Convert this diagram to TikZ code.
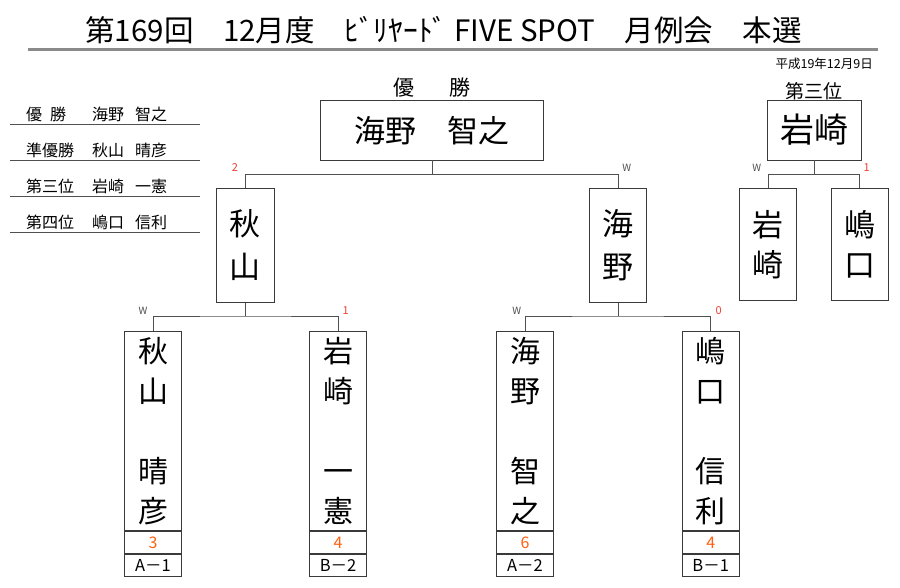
\documentclass[tikz,border=0pt]{standalone}
\usepackage{fontspec}
\setmainfont{Noto Sans CJK JP}
\usepackage{tikz}
\usetikzlibrary{positioning}
\usepackage{xcolor}

\definecolor{linegray}{HTML}{505050}
\definecolor{boxgray}{HTML}{3A3A3A}
\definecolor{rulegray}{HTML}{8A8A8A}
\definecolor{lossred}{HTML}{F04030}
\definecolor{scoreorange}{HTML}{FF6010}
\newcommand{\fsz}[2]{\fontsize{#1}{#2}\selectfont}

\tikzset{
namebox/.style={draw=boxgray, line width=0.9pt, inner sep=0pt, align=center},
cellbox/.style={draw=boxgray, line width=0.9pt, inner sep=0pt, minimum width=57.4pt},
link/.style={draw=linegray, line width=0.9pt},
wmark/.style={font=\fsz{10}{11}, text=linegray, inner sep=0pt},
lossmark/.style={font=\fsz{11}{12}, text=lossred, inner sep=0pt},
}

\begin{document}
\begin{tikzpicture}[x=1pt,y=-1pt]
\fill[white] (0,0) rectangle (900,587);
\useasboundingbox (0,0) rectangle (900,587);

% title
\node[font=\fsz{29.5}{31}, inner sep=0pt] (title) at (443.5,30) {第169回　12月度　ﾋﾞﾘﾔｰﾄﾞ FIVE SPOT　月例会　本選};
\draw[rulegray, line width=2.5pt] (28,49.5) -- (878,49.5);
\node[font=\fsz{12.5}{13}, anchor=east, inner sep=0pt] (date) at (873,64) {平成19年12月9日};

% ranking list
\foreach \y/\a/\b/\c [count=\i] in {114.5/優\hspace{8pt}勝/海野/智之, 150.5/準優勝/秋山/晴彦, 186/第三位/岩崎/一憲, 222/第四位/嶋口/信利}
{
\node[font=\fsz{16}{17}, anchor=west, inner sep=0pt] (rank\i) at (26,\y) {\a};
\node[font=\fsz{16}{17}, anchor=west, inner sep=0pt] (fam\i) at (92,\y) {\b};
\node[font=\fsz{16}{17}, anchor=west, inner sep=0pt] (given\i) at (135,\y) {\c};
\draw[linegray, line width=0.8pt] (10,\y+10) -- (200,\y+10);
}

% final
\node[font=\fsz{21}{22}, inner sep=0pt] (champlab) at (432,88) {優\hspace{36pt}勝};
\node[namebox, minimum width=222.6pt, minimum height=59.3pt, font=\fsz{31}{32}] (champ) at (432,130.3) {海野　智之};

\node[namebox, minimum width=57.4pt, minimum height=114pt, font=\fsz{31}{43}] (semiA) at (245.3,245.3) {秋\\山};
\node[namebox, minimum width=57.4pt, minimum height=114pt, font=\fsz{31}{43}] (semiB) at (618,245.3) {海\\野};

\coordinate (jF) at (432,174.3);
\draw[link] (champ.south) -- (jF);
\draw[link] (semiA.north) |- (jF) -| (semiB.north);
\node[lossmark] (lsF) at (235,168) {2};
\node[wmark] (wF) at (626.7,168) {W};

% first round
\foreach \n/\x/\name/\sc/\seed in {qA/153/秋\\山\\　\\晴\\彦/3/A－1, qB/338/岩\\崎\\　\\一\\憲/4/B－2, qC/525/海\\野\\　\\智\\之/6/A－2, qD/710.7/嶋\\口\\　\\信\\利/4/B－1}
{
\node[namebox, minimum width=57.4pt, minimum height=199.4pt, anchor=north, font=\fsz{30}{40}] (\n) at (\x,331) {\name};
\node[cellbox, minimum height=21.3pt, anchor=north, text=scoreorange, font=\fsz{16}{17}] (\n-score) at (\n.south) {\sc};
\node[cellbox, minimum height=22pt, anchor=north, font=\fsz{16.5}{17}] (\n-seed) at (\n-score.south) {\seed};
}

\coordinate (jA) at (245.3,316);
\coordinate (jB) at (618,316);
\draw[link] (semiA.south) -- (jA);
\draw[link] (qA.north) |- (jA) -| (qB.north);
\draw[link] (semiB.south) -- (jB);
\draw[link] (qC.north) |- (jB) -| (qD.north);
\node[wmark] (wA) at (143,311) {W};
\node[lossmark] (lsA) at (345.7,311) {1};
\node[wmark] (wB) at (516.7,311) {W};
\node[lossmark] (lsB) at (718.7,311) {0};

% third place
\node[font=\fsz{19}{20}, inner sep=0pt] (thirdlab) at (814.3,91) {第三位};
\node[namebox, minimum width=93.3pt, minimum height=60pt, font=\fsz{34}{35}] (third) at (814.3,130) {岩崎};
\node[namebox, minimum width=57.4pt, minimum height=111.7pt, font=\fsz{31}{40}] (tA) at (768,244.2) {岩\\崎};
\node[namebox, minimum width=57.4pt, minimum height=111.7pt, font=\fsz{31}{40}] (tB) at (859.7,244.2) {嶋\\口};
\coordinate (jT) at (814.3,174.3);
\draw[link] (third.south) -- (jT);
\draw[link] (tA.north) |- (jT) -| (tB.north);
\node[wmark] (wT) at (756.7,168) {W};
\node[lossmark] (lsT) at (866.7,168) {1};

\end{tikzpicture}
\end{document}
